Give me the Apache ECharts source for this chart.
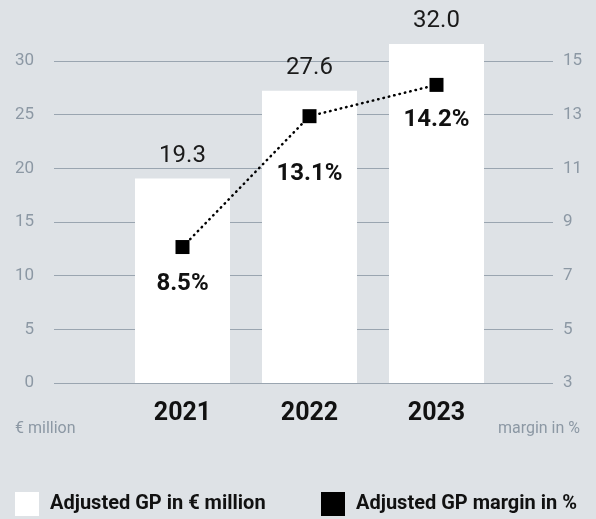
<!DOCTYPE html>
<html>
<head>
<meta charset="utf-8">
<script src="https://cdn.jsdelivr.net/npm/echarts@6/dist/echarts.min.js"></script>
<style>
  html,body{margin:0;padding:0;background:#dee2e6;}
  #main{width:596px;height:519px;}
</style>
</head>
<body>
<div id="main"></div>
<script>
// data
var years = ['2021', '2022', '2023'];
var gpValues = [19.3, 27.6, 32.0];
var marginValues = [8.5, 13.1, 14.2];
var gpName = 'Adjusted GP in € million';
var marginName = 'Adjusted GP margin in %';

// label gap under each marker (px)
var marginLabelGap = [18, 39, 16];

var grey = '#8c98a4';
var font = 'Roboto';

var legendText = { fontFamily: font, fontWeight: 'bold', fontSize: 20, color: '#111', padding: [3, 0, 0, 6] };

var chart = echarts.init(document.getElementById('main'));
chart.setOption({
  backgroundColor: '#dee2e6',
  textStyle: { fontFamily: font },
  animation: false,
  grid: [
    { left: 54, right: 43, top: 61, bottom: 136 },   // gridlines + tick labels
    { left: 119, right: 96, top: 61, bottom: 136 }    // bars + line
  ],
  legend: [
    {
      data: [gpName], left: 15, top: 492, padding: 0, itemWidth: 24, itemHeight: 24, icon: 'rect',
      selectedMode: false, textStyle: legendText
    },
    {
      data: [marginName], left: 321, top: 492, padding: 0, itemWidth: 24, itemHeight: 24, icon: 'rect',
      selectedMode: false, textStyle: legendText
    }
  ],
  xAxis: [
    { gridIndex: 0, type: 'value', min: 0, max: 1, show: false },
    {
      gridIndex: 1, type: 'category', data: years,
      axisLine: { show: false }, axisTick: { show: false },
      axisLabel: { margin: 18, fontSize: 25, fontWeight: 'bold', color: '#111', fontFamily: font }
    }
  ],
  yAxis: [
    {
      gridIndex: 0, type: 'value', position: 'left', min: 0, max: 30, interval: 5,
      axisLine: { show: false }, axisTick: { show: false },
      axisLabel: { margin: 20, fontSize: 17, color: grey, fontFamily: font },
      splitLine: { lineStyle: { color: '#9aa5b0', width: 1 } }
    },
    {
      gridIndex: 0, type: 'value', position: 'right', min: 3, max: 15, interval: 2,
      axisLine: { show: false }, axisTick: { show: false },
      axisLabel: { margin: 10, fontSize: 17, color: grey, fontFamily: font },
      splitLine: { show: false }
    },
    // scales the reference actually plots with
    { gridIndex: 1, type: 'value', min: 0, max: 30.4, show: false },
    { gridIndex: 1, type: 'value', min: 3.72, max: 15.04, show: false }
  ],
  graphic: [
    { type: 'text', left: 15, top: 421, style: { text: '€ million', fontSize: 16, fill: grey, fontFamily: font } },
    { type: 'text', right: 16, top: 421, style: { text: 'margin in %', fontSize: 16, fill: grey, fontFamily: font } }
  ],
  series: [
    {
      name: gpName, type: 'bar', xAxisIndex: 1, yAxisIndex: 2,
      data: gpValues, barWidth: 95, clip: false,
      itemStyle: { color: '#ffffff' },
      label: {
        show: true, position: 'top', distance: 11, fontSize: 24, color: '#1a1a1a', fontFamily: font,
        formatter: function (p) { return p.value.toFixed(1); }
      }
    },
    {
      name: marginName, type: 'line', xAxisIndex: 1, yAxisIndex: 3,
      data: marginValues.map(function (v, i) {
        return { value: v, label: { distance: marginLabelGap[i] } };
      }),
      symbol: 'rect', symbolSize: 14,
      itemStyle: { color: '#000' },
      lineStyle: { color: '#000', width: 2.5, type: [0.5, 5], cap: 'round' },
      label: {
        show: true, position: 'bottom', fontSize: 24, fontWeight: 'bold', color: '#111', fontFamily: font,
        formatter: function (p) { return p.value.toFixed(1) + '%'; }
      },
      z: 5
    }
  ]
});
</script>
</body>
</html>
